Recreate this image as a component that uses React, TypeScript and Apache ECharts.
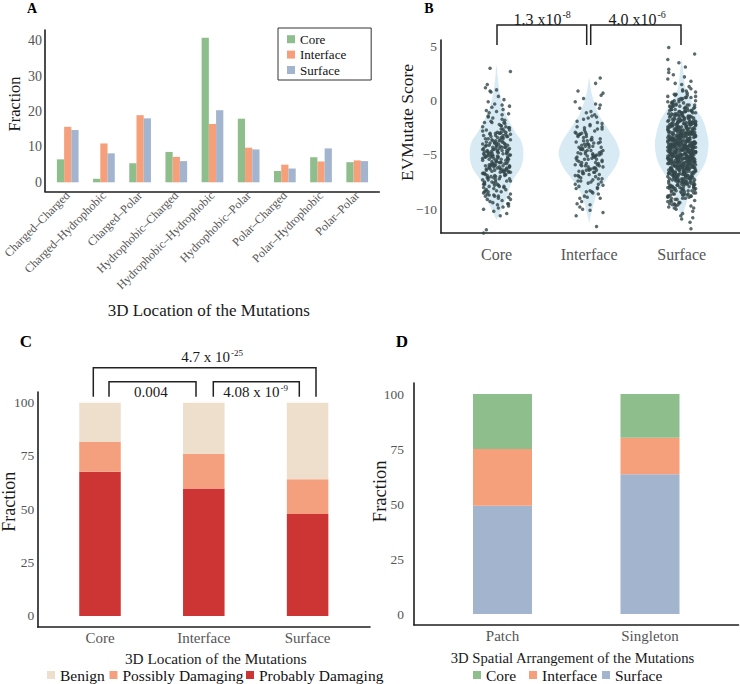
import React, { useEffect, useRef } from "react";
import * as echarts from "echarts";

const FONT = "Liberation Serif";

// Panel A
const pairCategories = ["Charged–Charged", "Charged–Hydrophobic", "Charged–Polar", "Hydrophobic–Charged", "Hydrophobic–Hydrophobic", "Hydrophobic–Polar", "Polar–Charged", "Polar–Hydrophobic", "Polar–Polar"];
const coreFraction = [6.5, 1.0, 5.4, 8.6, 40.9, 18.0, 3.2, 7.1, 5.7];
const interfaceFraction = [15.7, 11.0, 19.0, 7.2, 16.5, 9.8, 5.0, 5.9, 6.2];
const surfaceFraction = [14.8, 8.2, 18.1, 6.0, 20.4, 9.3, 3.9, 9.6, 6.0];
const fractionTicksA = [0, 10, 20, 30, 40];

// Panel B
const locations = ["Core", "Interface", "Surface"];
const evTicks = [-10, -5, 0, 5];
const evCore = [-5.2,-3.8,-6.1,-4.4,-7.3,-2.9,-5.8,-4.9,-8.4,-3.3,-6.6,-5.5,-1.8,-4.1,-7.9,-6.2,-3.6,-5.1,-9.2,-4.7,
-2.4,-6.9,-5.3,-3.1,-8.8,-4.5,-6.4,-0.6,-5.7,-7.1,-3.9,-4.2,-6.0,-8.1,-2.7,-5.0,-9.6,-4.8,-6.7,-3.4,
-5.9,-1.2,-7.5,-4.3,-6.3,-2.2,-5.4,-8.6,-3.7,-4.6,-7.7,-6.8,-0.3,-5.6,-3.0,-9.0,-4.0,-6.5,-2.0,-7.0,
-5.1,-8.3,-3.5,-4.9,-10.2,-6.1,-1.5,-5.3,-7.4,-4.4,-2.6,-6.0,-8.9,-3.2,-5.8,-0.9,-7.2,-4.1,-6.6,-9.4,
-3.8,-5.0,-2.9,-7.8,-4.7,-6.3,0.4,-5.5,-8.0,-3.6,-4.2,-6.9,-1.0,-5.2,-9.8,-7.6,-2.5,-4.8,-6.2,-3.3,
-8.5,-5.7,0.8,-4.5,-7.0,-2.1,-6.4,-3.0,-5.9,-9.1,-4.3,-1.7,-6.7,-8.2,-3.9,-5.4,3.0,-4.0,-7.3,-2.8,
-6.5,-10.6,-4.6,-5.6,1.2,-3.4,-8.7,-6.1,-0.1,-7.7,-4.9,-12.2,-2.3,-5.2,-9.5,-3.7,-6.8,-11.9,-4.4,-7.9,
2.7,-5.0,-1.3,-8.4,-3.1,-6.0,-4.1,0.9,-9.9,-5.3,-2.0,-7.5,-6.3,-4.7,1.0,-8.8,-3.5,-5.8,-0.5,-7.1,
-4.6,-6.3,-3.2,-5.4,-7.0,-2.5,-5.9,-4.0,-8.2,-3.7,-6.1,-5.0,-1.6,-4.3,-7.6,-6.4,-3.9,-5.2,-9.3,-4.8,
-2.8,-6.6,-5.6,-3.0,-8.6,-4.2,-6.0,-0.8,-5.3,-7.2,-3.5,-4.7,-6.2,-8.0,-2.3,-5.1,-9.7,-4.4,-6.9,-3.8,
-5.7,-1.1,-7.4,-4.5,-6.5,-2.0,-5.5,-8.8,-3.3,-4.9,-7.8,-6.7,0.1,-5.8,-3.6,-9.1,-4.1,-6.8,-2.6,-7.1,
-5.0,-8.4,-3.4,-4.6,-10.0,-6.3,-1.9,-5.4,-7.3,-4.0,-2.7,-6.1,-8.7,-3.1,-5.9,-0.4,-7.5,-4.3,-6.4,-9.5,
-3.9,-5.2,-2.4,-7.9,-4.8,-6.6,1.5,-5.6,-8.3,-3.2,-4.5,-6.0,-1.4,-5.1,-10.4,-7.7,-2.9,-4.7,-6.5,-3.0];
const evInterface = [-4.8,-6.2,-3.1,-5.5,-7.4,-2.2,-5.0,-8.1,-3.9,-6.7,-4.3,-1.6,-5.9,-7.0,-3.4,-9.3,-4.6,-6.0,-2.8,-5.2,
-8.6,-4.0,-0.4,-6.5,-3.6,-7.7,-5.4,-2.5,-4.9,-9.8,-6.3,-3.2,-5.7,-1.1,-7.2,-4.4,-8.3,-6.8,-3.8,-5.1,
0.2,-4.7,-6.1,-2.0,-7.9,-5.3,-3.0,-10.3,-4.2,-6.6,-1.9,-5.8,-8.9,-3.5,-4.5,-7.5,-0.1,-6.4,-2.7,-5.0,
-9.0,-4.1,-6.9,1.6,-3.3,-5.6,-7.1,-2.3,-4.8,-10.6,-6.2,-3.7,0.5,-5.4,-8.0,-4.3,-1.4,-6.0,-7.8,-2.9,
-5.2,-9.5,-3.9,-4.6,2.1,-6.7,-1.0,-5.9,-11.6,-4.0,-7.3,-3.1,-6.4,0.9,-5.1,-8.4,-2.4,-4.9,-10.1,-0.7,
-5.3,-6.6,-3.4,-4.9,-7.6,-2.6,-5.6,-8.4,-4.1,-6.1,-4.7,-1.3,-5.5,-7.2,-3.7,-9.0,-4.4,-6.3,-2.9,-5.0,
-8.8,-4.2,-0.7,-6.8,-3.3,-7.0,-5.8,-2.1,-4.5,-9.6,-6.0,-3.0,-5.2,-1.7,-7.5,-4.0,-8.1,-6.5,-3.6,-5.7,
0.7,-4.9,-6.2,-2.4,-7.7,-5.1,-3.8,-10.0,-4.6,-6.9,-1.5,-5.4,-8.5,-3.1,-4.3,-7.4,-0.3,-6.4,-2.6,-5.9];
const evSurface = [-4.1,-2.6,-5.7,-3.3,-6.8,-1.4,-4.9,-7.6,-3.8,-5.2,-0.7,-6.1,-2.9,-8.3,-4.4,-3.6,-5.9,-1.9,-7.1,-4.7,
-2.2,-6.4,-3.9,-5.5,-0.2,-8.8,-4.2,-2.8,-6.9,-3.1,-5.0,-7.9,-1.6,-4.6,-9.2,-3.4,-6.2,-0.9,-5.3,-2.4,
-7.4,-4.0,-3.0,-5.8,-1.2,-6.6,-4.8,-8.1,-2.0,-3.7,-5.4,0.3,-6.0,-4.3,-9.6,-2.7,-7.0,-3.5,-5.1,-1.0,
-6.5,-4.5,-2.3,-8.6,-3.2,-5.6,-0.5,-7.3,-4.1,-1.8,-6.3,-3.8,-9.9,-5.0,-2.5,-4.9,-7.7,0.6,-3.3,-6.1,
-4.6,-1.5,-5.9,-8.0,-2.9,-3.9,-6.7,-0.1,-5.2,-4.4,-9.0,-2.1,-7.2,-3.6,-5.7,-1.3,-4.0,-6.9,-10.4,-3.0,
-5.5,0.9,-4.2,-7.5,-2.6,-6.2,-3.4,-8.4,-1.7,-4.7,-5.1,-0.4,-6.6,-3.1,-9.4,-4.9,-2.2,-7.9,-5.3,1.3,
-3.7,-6.0,-4.3,-1.1,-8.7,-2.8,-5.6,-3.9,-7.0,0.2,-4.5,-6.4,-2.4,-9.7,-5.0,-3.2,-1.9,-6.8,-4.1,-8.2,
-2.0,-5.4,-7.6,-3.5,1.8,-4.8,-6.1,-0.8,-5.8,-2.7,-8.9,-4.0,-3.0,-6.5,-10.9,-1.4,-5.2,-7.3,-3.8,2.4,
-4.4,-6.7,-2.5,-5.0,-0.3,-7.8,-3.3,-4.6,-9.3,-1.6,-6.0,-3.9,-5.5,0.5,-8.1,-2.9,-4.2,-7.1,-1.2,-5.9,
-3.4,-6.3,-4.9,3.1,-2.3,-8.5,-5.1,-3.7,-7.4,-0.6,-4.0,-6.8,-2.0,-9.8,-5.6,-4.5,-1.8,-3.1,-11.2,-6.2,
-5.3,-2.6,0.0,-7.0,-4.3,-3.6,-8.8,-1.0,-5.8,-4.7,-6.6,2.0,-3.0,-9.1,-2.2,-5.0,-7.7,-4.1,-0.9,-6.4,
-3.8,-1.3,-5.4,-8.3,4.9,-4.4,-2.7,-6.1,-3.2,-7.5,-0.2,-5.7,-9.5,-4.8,-1.7,-6.9,-3.5,1.1,-5.2,-10.2,
-4.0,-7.2,-2.4,-5.9,-3.3,-0.7,-8.0,-4.6,-6.3,-1.5,-3.9,4.3,-5.1,-9.0,-2.8,-6.7,-4.2,-0.4,-7.8,-3.6,
-5.6,-2.1,-4.9,-8.6,0.8,-3.0,-6.0,-4.5,-11.8,-1.9,-5.3,-7.3,-3.4,3.8,-6.5,-2.5,-4.1,-9.6,-1.1,-5.8,
-4.7,-0.1,-6.2,-3.1,-8.2,-5.0,2.9,-2.9,-7.0,-4.3,-10.6,-1.4,-5.5,-3.7,-6.8,0.4,-4.0,-8.7,-2.2,-5.1,
-3.5,-6.6,1.6,-4.4,-9.3,-2.0,-5.7,-7.6,-0.5,-3.8,-4.8,-6.1,3.5,-2.6,-8.0,-5.3,-1.0,-4.2,-7.4,-3.2,
-4.3,-2.8,-5.5,-3.5,-6.6,-1.6,-4.7,-7.4,-3.6,-5.0,-0.9,-6.3,-3.1,-8.1,-4.6,-3.8,-5.7,-2.1,-6.9,-4.9,
-2.4,-6.2,-3.7,-5.3,-0.4,-8.6,-4.0,-3.0,-6.7,-3.3,-5.2,-7.7,-1.8,-4.8,-9.0,-3.2,-6.0,-1.1,-5.5,-2.6,
-7.2,-4.2,-3.2,-5.6,-1.4,-6.4,-4.6,-7.9,-2.2,-3.9,-5.2,0.1,-6.2,-4.5,-9.4,-2.9,-6.8,-3.7,-5.3,-1.2,
-6.3,-4.7,-2.5,-8.4,-3.4,-5.4,-0.7,-7.1,-4.3,-2.0,-6.1,-3.6,-9.7,-5.2,-2.7,-4.7,-7.5,0.4,-3.5,-6.3,
-4.8,-1.7,-5.7,-7.8,-3.1,-4.1,-6.5,-0.3,-5.0,-4.2,-8.8,-2.3,-7.0,-3.8,-5.9,-1.5,-4.2,-6.7,-9.9,-3.2,
-5.3,0.7,-4.4,-7.3,-2.8,-6.0,-3.6,-8.2,-1.9,-4.5,-5.3,-0.6,-6.4,-3.3,-9.2,-4.7,-2.4,-7.7,-5.1,1.0,
-3.9,-5.8,-4.5,-1.3,-8.5,-3.0,-5.4,-4.1,-6.8,0.0,-4.7,-6.2,-2.6,-9.5,-5.2,-3.4,-2.1,-6.6,-4.3,-8.0,
-2.2,-5.6,-7.4,-3.7,1.5,-4.6,-6.3,-1.0,-5.6,-2.9,-8.7,-4.2,-3.2,-6.3,-10.0,-1.6,-5.0,-7.1,-4.0,2.2,
-4.2,-6.5,-2.7,-5.2,-0.5,-7.6,-3.5,-4.8,-9.1,-1.8,-5.8,-4.1,-5.3,0.3,-7.9,-3.1,-4.4,-6.9,-1.4,-5.7,
-3.6,-6.1,-4.7,2.6,-2.5,-8.3,-5.3,-3.9,-7.2,-0.8,-4.2,-6.6,-2.2,-9.6,-5.4,-4.3,-2.0,-3.3,-10.8,-6.0,
-3.0,-5.1,-1.7,-6.8,-4.2,-2.3,-7.5,-0.6,-5.6,-3.9,-8.2,-4.6,-1.2,-6.1,-2.8,-5.0,-7.2,-3.4,0.2,-4.8,
-6.4,-2.1,-4.0,-8.5,-3.6,-5.8,-0.9,-7.0,-4.4,-2.6,-6.6,-1.5,-5.3,-3.1,-7.8,-4.9,-0.2,-6.0,-2.4,-5.4,
-3.8,-7.3,-1.9,-4.5,-6.9,-2.9,-5.2,0.6,-8.0,-3.3,-4.1,-6.3,-1.0,-5.7,-2.2,-7.6,-3.5,-4.7,-8.8,-1.6,
-5.5,-2.7,-6.5,-4.3,-0.4,-7.1,-3.2,-5.9,-1.3,-4.0,-8.3,-2.5,-6.2,-3.7,0.9,-5.1,-7.4,-2.0,-4.6,-6.7,
-1.8,-3.0,-5.6,-8.6,-4.2,-2.3,-6.0,-0.7,-7.9,-3.9,-5.0,-1.1,-4.8,-6.5,-2.6,-7.2,-3.4,-5.3,-0.1,-8.1,
-4.4,-1.4,-6.8,-3.1,-5.7,-2.8,-7.0,-4.0,0.3,-6.1,-2.0,-5.5,-3.6,-8.4,-1.7,-4.9,-6.4,-2.4,-7.7,-3.3,
-5.2,-0.5,-4.5,-6.9,-2.1,-8.9,-3.8,-5.8,-1.0,-7.3,-4.1,-2.9,-6.3,0.1,-5.4,-3.5,-7.5,-1.5,-4.7,-6.6,
-2.5,-8.0,-3.2,-5.0,-0.8,-6.2,-4.3,-1.9,-7.8,-3.0,-5.6,-2.2,-6.7,-4.6,0.5,-8.7,-3.7,-5.3,-1.2,-7.1];
// violin outlines: [score, half width in category units]
const violinCore = [[3.4,0],[2,0.015],[0.5,0.04],[-1,0.09],[-2.1,0.15],[-3,0.21],[-3.6,0.26],[-4.3,0.285],[-5,0.29],[-5.7,0.28],[-6.4,0.25],[-7,0.2],[-7.6,0.16],[-8.9,0.11],[-10.1,0.05],[-11,0]];
const violinInterface = [[2.2,0],[1,0.02],[0,0.05],[-1.2,0.1],[-2.3,0.18],[-3.3,0.26],[-4.1,0.31],[-4.85,0.33],[-5.6,0.31],[-6.4,0.26],[-7.2,0.19],[-7.9,0.13],[-8.7,0.08],[-9.5,0.05],[-10.5,0.02],[-11.3,0]];
const violinSurface = [[4,0],[2.5,0.02],[1.2,0.04],[0.4,0.08],[-0.7,0.15],[-1.8,0.23],[-2.9,0.27],[-3.9,0.29],[-4.9,0.28],[-5.8,0.25],[-6.7,0.19],[-7.6,0.125],[-8.5,0.08],[-9.5,0.05],[-10.3,0.02],[-11,0]];
const jitter = [-0.12,0.07,-0.03,0.14,-0.09,0.01,0.11,-0.14,0.05,-0.06,0.13,-0.01,0.09,-0.11,0.03,-0.08,0.15,-0.04,0.06,-0.13,0.10,-0.02,0.12,-0.07,0.02,-0.15,0.08,-0.05,0.04,-0.10,0.00];

// Panel C
const polyphenCats = ["Core", "Interface", "Surface"];
const probablyDamaging = [67.6, 59.7, 47.8];
const possiblyDamaging = [14.0, 16.2, 16.3];
const benign = [18.4, 24.1, 35.9];
const fractionTicks = [0, 25, 50, 75, 100];

// Panel D
const arrangement = ["Patch", "Singleton"];
const surfaceShare = [49.2, 63.5];
const interfaceShare = [25.8, 16.6];
const coreShare = [25.0, 19.9];

const GREEN = "#8fbe8d";
const ORANGE = "#f5a07b";
const BLUE = "#a3b4cf";
const LINE = { color: "#1f1f1f", width: 1.6 };
const TICK = "#555";

function frameX(gridIndex: number) {
  return { gridIndex, type: "value", min: 0, max: 1, axisLine: { show: true, onZero: false, lineStyle: LINE }, axisTick: { show: false }, axisLabel: { show: false }, splitLine: { show: false } };
}
function catX(gridIndex: number, data: string[], fontSize: number, margin: number, extra: any = {}) {
  return { gridIndex, type: "category", data, axisLine: { show: false }, axisTick: { show: false }, splitLine: { show: false },
    axisLabel: { interval: 0, margin, fontSize, color: TICK, fontFamily: FONT, ...extra } };
}
function frameY(gridIndex: number, min: number, max: number, ticks: number[], fontSize: number, margin: number, fmt?: any) {
  return { gridIndex, type: "value", min, max, axisLine: { show: true, onZero: false, lineStyle: LINE }, axisTick: { show: false }, splitLine: { show: false },
    axisLabel: { customValues: ticks, margin, fontSize, color: TICK, fontFamily: FONT, formatter: fmt } };
}
function hiddenY(gridIndex: number, min: number, max: number) {
  return { gridIndex, type: "value", min, max, show: false, splitLine: { show: false } };
}
function txt(x: number, y: number, text: string, size: number, o: any = {}) {
  return { type: "text", x, y, rotation: o.rot || 0, silent: true,
    style: { text, fontSize: size, fontFamily: FONT, fontWeight: o.bold ? "bold" : "normal", fill: o.color || "#1a1a1a",
      align: o.align || "center", verticalAlign: "middle", textAlign: o.align || "center", textVerticalAlign: "middle" } };
}
function bracket(pts: number[][]) {
  return { type: "polyline", silent: true, shape: { points: pts }, style: { stroke: "#222", lineWidth: 1.5, fill: "none" } };
}

export default function App() {
  const ref = useRef<HTMLDivElement>(null);
  useEffect(() => {
    document.body.style.margin = "0";
    const chart = echarts.init(ref.current!, null, { renderer: "svg" });
    const violins = [violinCore, violinInterface, violinSurface];
    const evGroups = [evCore, evInterface, evSurface];
    const legendCommon = { padding: 0, itemWidth: 8, itemHeight: 8, icon: "rect", selectedMode: false,
      textStyle: { fontFamily: FONT, fontSize: 15.5, color: "#111", lineHeight: 16 } };
    const option: any = {
      animation: false,
      backgroundColor: "#fff",
      textStyle: { fontFamily: FONT },
      grid: [
        { left: 45, top: 30, width: 334.3, height: 161.5 },
        { left: 48.6, top: 30, width: 326.7, height: 161.5 },
        { left: 441, top: 40, width: 299, height: 193 },
        { left: 37.7, top: 392, width: 332.3, height: 235 },
        { left: 48.1, top: 392, width: 311.4, height: 235 },
        { left: 414, top: 383, width: 324.5, height: 242 },
        { left: 428.75, top: 383, width: 295, height: 242 },
      ],
      xAxis: [
        frameX(0),
        catX(1, pairCategories, 12, 2, { rotate: 45 }),
        { gridIndex: 2, type: "value", min: 0.4, max: 3.63, axisLine: { show: true, onZero: false, lineStyle: LINE }, axisTick: { show: false }, splitLine: { show: false },
          axisLabel: { customValues: [1, 2, 3], formatter: (v: number) => locations[Math.round(v) - 1], margin: 13, fontSize: 16, color: TICK, fontFamily: FONT } },
        frameX(3),
        catX(4, polyphenCats, 15, 3.5),
        frameX(5),
        catX(6, arrangement, 15, 3),
      ],
      yAxis: [
        frameY(0, -2.6, 43.1, fractionTicksA, 14, 3),
        hiddenY(1, -2.6, 43.1),
        frameY(2, -12.2, 5.6, evTicks, 13.5, 4, (v: number) => (v < 0 ? "−" + Math.abs(v) : String(v))),
        frameY(3, -5.2, 105, fractionTicks, 13.5, 3.5),
        hiddenY(4, -5.2, 105),
        frameY(5, -5, 105, fractionTicks, 13.5, 10),
        hiddenY(6, -5, 105),
      ],
      legend: [
        { data: ["Core", "Interface", "Surface"], orient: "vertical", left: 278, top: 28, padding: [4.7, 25, 3.5, 9], itemGap: 2.4,
          itemWidth: 8, itemHeight: 8, icon: "rect", borderColor: "#333", borderWidth: 1, selectedMode: false,
          textStyle: { fontFamily: FONT, fontSize: 13, color: "#111", lineHeight: 13 } },
        { ...legendCommon, data: ["Benign"], left: 47, top: 667 },
        { ...legendCommon, data: ["Possibly Damaging"], left: 109.5, top: 667 },
        { ...legendCommon, data: ["Probably Damaging"], left: 246, top: 667 },
        { ...legendCommon, data: ["Core"], left: 473, top: 667 },
        { ...legendCommon, data: ["Interface"], left: 529, top: 667 },
        { ...legendCommon, data: ["Surface"], left: 602, top: 667 },
      ],
      series: [
        { type: "bar", name: "Core", xAxisIndex: 1, yAxisIndex: 1, data: coreFraction, itemStyle: { color: GREEN }, barGap: "0%", barCategoryGap: "40%" },
        { type: "bar", name: "Interface", xAxisIndex: 1, yAxisIndex: 1, data: interfaceFraction, itemStyle: { color: ORANGE }, barGap: "0%", barCategoryGap: "40%" },
        { type: "bar", name: "Surface", xAxisIndex: 1, yAxisIndex: 1, data: surfaceFraction, itemStyle: { color: BLUE }, barGap: "0%", barCategoryGap: "40%" },
        {
          type: "custom", name: "violin", xAxisIndex: 2, yAxisIndex: 2, z: 1,
          data: [[1, -5], [2, -5], [3, -5]], encode: { x: 0, y: 1 },
          renderItem: (params: any, api: any) => {
            const g = params.dataIndex;
            const prof = violins[g];
            const pts: number[][] = [];
            for (const [v, w] of prof) pts.push(api.coord([g + 1 + w, v]));
            for (let i = prof.length - 1; i >= 0; i--) pts.push(api.coord([g + 1 - prof[i][1], prof[i][0]]));
            return { type: "polygon", shape: { points: pts, smooth: 0.3 }, style: { fill: "#d8ebf4" } };
          },
        },
        ...evGroups.map((arr, g) => ({
          type: "scatter", name: locations[g] + " scores", xAxisIndex: 2, yAxisIndex: 2, z: 3,
          symbolSize: 3.5, itemStyle: { color: "#33474a" },
          data: arr.map((y, i) => [g + 1 + jitter[i % jitter.length], y]),
        })),
        { type: "bar", name: "Probably Damaging", stack: "c", xAxisIndex: 4, yAxisIndex: 4, data: probablyDamaging, barWidth: "40%", itemStyle: { color: "#cd3434" } },
        { type: "bar", name: "Possibly Damaging", stack: "c", xAxisIndex: 4, yAxisIndex: 4, data: possiblyDamaging, barWidth: "40%", itemStyle: { color: "#f4a07e" } },
        { type: "bar", name: "Benign", stack: "c", xAxisIndex: 4, yAxisIndex: 4, data: benign, barWidth: "40%", itemStyle: { color: "#eddfcc" } },
        { type: "bar", name: "Surface", stack: "d", xAxisIndex: 6, yAxisIndex: 6, data: surfaceShare, barWidth: "40%", itemStyle: { color: BLUE } },
        { type: "bar", name: "Interface", stack: "d", xAxisIndex: 6, yAxisIndex: 6, data: interfaceShare, barWidth: "40%", itemStyle: { color: ORANGE } },
        { type: "bar", name: "Core", stack: "d", xAxisIndex: 6, yAxisIndex: 6, data: coreShare, barWidth: "40%", itemStyle: { color: GREEN } },
      ],
      graphic: [
        txt(32, 8.5, "A", 14, { bold: true, color: "#000" }),
        txt(429, 8.5, "B", 14, { bold: true, color: "#000" }),
        txt(26, 341, "C", 17, { bold: true, color: "#000" }),
        txt(402, 341, "D", 17, { bold: true, color: "#000" }),
        txt(208.7, 310.5, "3D Location of the Mutations", 17),
        txt(14.4, 104, "Fraction", 16.5, { rot: Math.PI / 2 }),
        txt(407.3, 122.5, "EVMutate Score", 17.5, { rot: Math.PI / 2 }),
        txt(215.8, 658, "3D Location of the Mutations", 15.3),
        txt(9, 501.7, "Fraction", 18, { rot: Math.PI / 2 }),
        txt(572.5, 658, "3D Spatial Arrangement of the Mutations", 14.7),
        txt(380.4, 491.3, "Fraction", 18.5, { rot: Math.PI / 2 }),
        bracket([[497, 45], [497, 25], [586.7, 25], [586.7, 45]]),
        bracket([[590.7, 45], [590.7, 25], [681, 25], [681, 45]]),
        txt(561.5, 19, "1.3 x10", 16, { align: "right" }),
        txt(562.5, 14.5, "-8", 10, { align: "left" }),
        txt(656.5, 19, "4.0 x10", 16, { align: "right" }),
        txt(657.5, 14.5, "-6", 10, { align: "left" }),
        bracket([[93.3, 396.7], [93.3, 367.7], [316, 367.7], [316, 396.7]]),
        bracket([[109, 396.7], [109, 381.7], [196, 381.7], [196, 396.7]]),
        bracket([[213.3, 396.7], [213.3, 381.7], [299.3, 381.7], [299.3, 396.7]]),
        txt(230, 357, "4.7 x 10", 15, { align: "right" }),
        txt(231, 353, "-25", 9, { align: "left" }),
        txt(150.8, 392, "0.004", 15),
        txt(279.5, 392, "4.08 x 10", 15, { align: "right" }),
        txt(280.5, 388, "-9", 9, { align: "left" }),
      ],
    };
    chart.setOption(option);
    return () => chart.dispose();
  }, []);
  return <div ref={ref} style={{ position: "fixed", left: 0, top: 0, width: 740, height: 684 }} />;
}
